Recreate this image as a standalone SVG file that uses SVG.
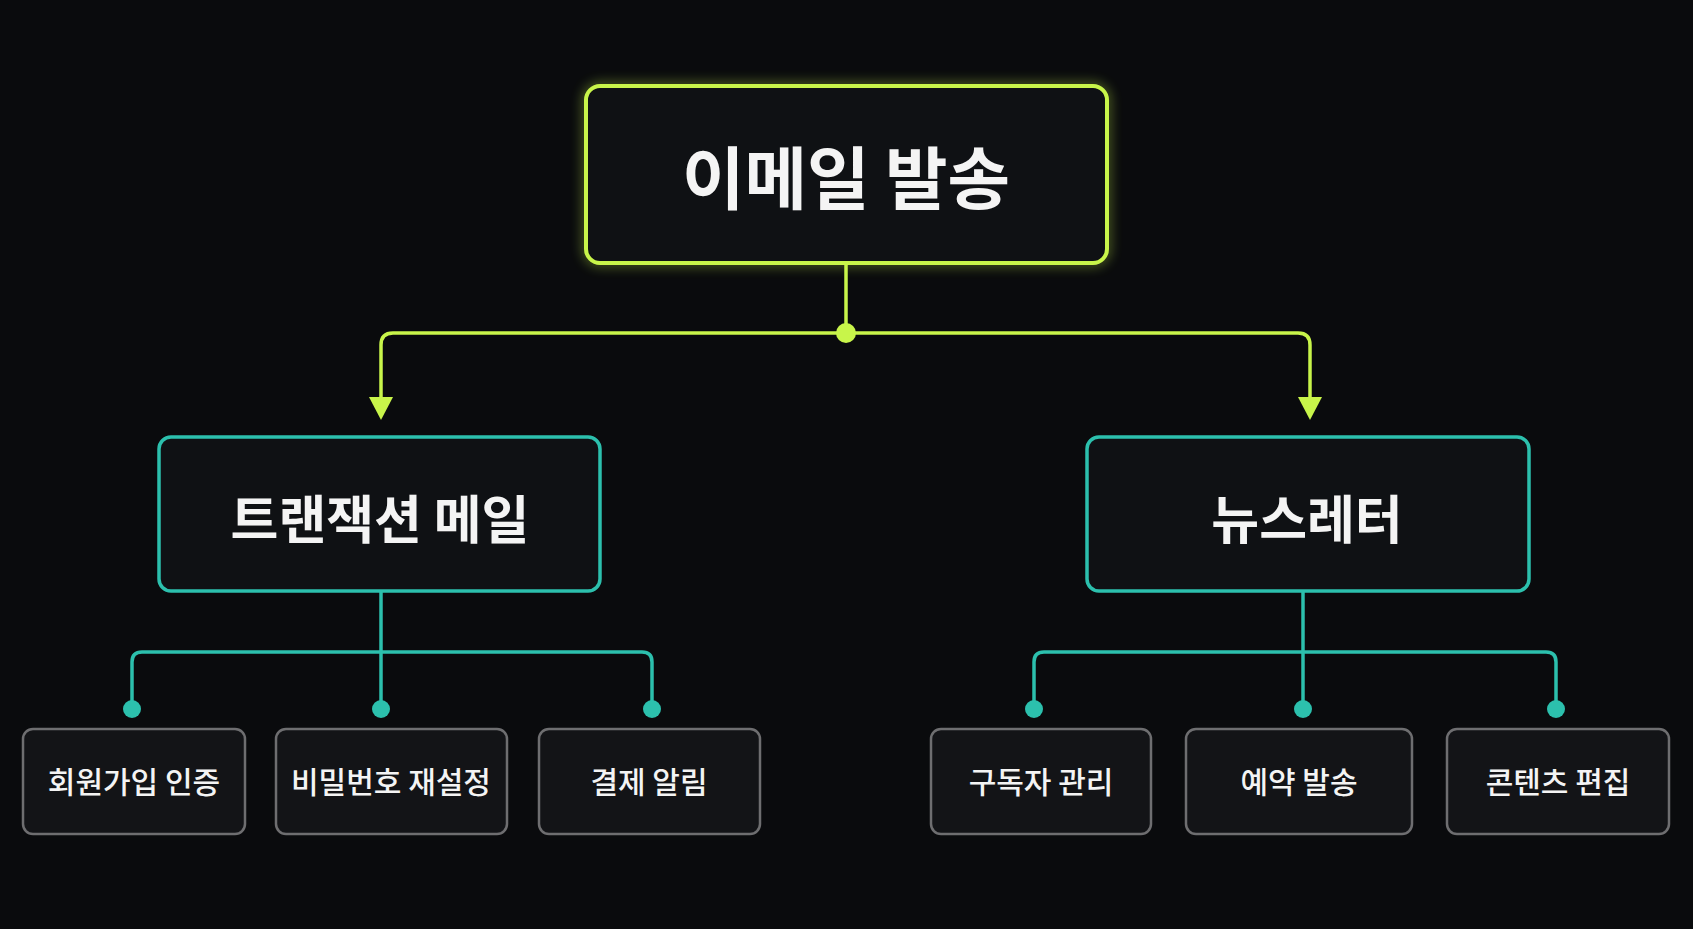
<svg xmlns="http://www.w3.org/2000/svg" width="1693" height="929" viewBox="0 0 1693 929">
<defs>
<style>
text{font-family:"Noto Sans CJK KR","Noto Sans",sans-serif;fill:#f4f4f4;text-anchor:middle;dominant-baseline:central}
.root{font-size:68px;font-weight:700}
.mid{font-size:52px;font-weight:700}
.leaf{font-size:30px;font-weight:500}
.lime{stroke:#c8f54a;fill:none;stroke-width:3.5}
.teal{stroke:#2cc0ad;fill:none;stroke-width:3.5}
.boxr{fill:#0f1114;stroke:#c8f54a;stroke-width:4}
.boxm{fill:#0f1114;stroke:#2cc0ad;stroke-width:3.5}
.boxl{fill:#131417;stroke:#6e6e70;stroke-width:2.5}
</style>
<filter id="glow" x="-20%" y="-20%" width="140%" height="140%"><feGaussianBlur stdDeviation="6"/></filter>
</defs>
<rect width="1693" height="929" fill="#0a0b0d"/>
<g id="connectors">
<path class="lime" d="M846,263 V333"/>
<path class="lime" d="M846,333 H393 Q381,333 381,345 V400"/>
<path class="lime" d="M846,333 H1298 Q1310,333 1310,345 V400"/>
<path d="M369,397 L393,397 L381,420 Z" fill="#c8f54a"/>
<path d="M1298,397 L1322,397 L1310,420 Z" fill="#c8f54a"/>
<circle cx="846" cy="333" r="10" fill="#c8f54a"/>
<path class="teal" d="M381,591 V708 M381,652 H142 Q132,652 132,662 V708 M381,652 H642 Q652,652 652,662 V708"/>
<path class="teal" d="M1303,591 V708 M1303,652 H1044 Q1034,652 1034,662 V708 M1303,652 H1546 Q1556,652 1556,662 V708"/>
<g fill="#2cc0ad">
<circle cx="132" cy="709" r="9"/><circle cx="381" cy="709" r="9"/><circle cx="652" cy="709" r="9"/>
<circle cx="1034" cy="709" r="9"/><circle cx="1303" cy="709" r="9"/><circle cx="1556" cy="709" r="9"/>
</g>
</g>
<g id="root">
<rect x="586" y="86" width="521" height="177" rx="14" fill="none" stroke="#c8f54a" stroke-width="6" opacity="0.5" filter="url(#glow)"/>
<rect class="boxr" x="586" y="86" width="521" height="177" rx="14"/>
<text class="root" x="846" y="174">이메일 발송</text>
</g>
<g id="transaction">
<rect class="boxm" x="159" y="437" width="441" height="154" rx="12"/>
<text class="mid" x="380" y="516">트랜잭션 메일</text>
</g>
<g id="newsletter">
<rect class="boxm" x="1087" y="437" width="442" height="154" rx="12"/>
<text class="mid" x="1307" y="516">뉴스레터</text>
</g>
<g id="leaf1"><rect class="boxl" x="23" y="729" width="222" height="105" rx="10"/><text class="leaf" x="134" y="780">회원가입 인증</text></g>
<g id="leaf2"><rect class="boxl" x="276" y="729" width="231" height="105" rx="10"/><text class="leaf" x="391" y="780">비밀번호 재설정</text></g>
<g id="leaf3"><rect class="boxl" x="539" y="729" width="221" height="105" rx="10"/><text class="leaf" x="649" y="780">결제 알림</text></g>
<g id="leaf4"><rect class="boxl" x="931" y="729" width="220" height="105" rx="10"/><text class="leaf" x="1041" y="780">구독자 관리</text></g>
<g id="leaf5"><rect class="boxl" x="1186" y="729" width="226" height="105" rx="10"/><text class="leaf" x="1299" y="780">예약 발송</text></g>
<g id="leaf6"><rect class="boxl" x="1447" y="729" width="222" height="105" rx="10"/><text class="leaf" x="1558" y="780">콘텐츠 편집</text></g>
</svg>
